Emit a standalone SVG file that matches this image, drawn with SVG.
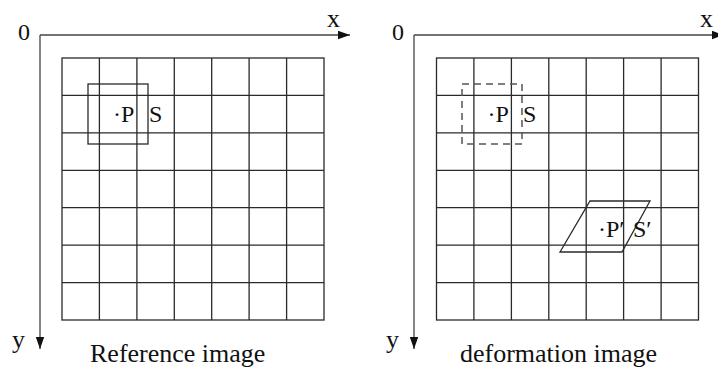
<svg xmlns="http://www.w3.org/2000/svg" width="718" height="367" viewBox="0 0 718 367" font-family="'Liberation Serif', 'DejaVu Serif', 'Times New Roman', serif">
<style>
.grid{stroke:#2a2a2a;stroke-width:1.3;fill:none}
.axis{stroke:#444;stroke-width:1.3;fill:none}
.box{stroke:#2a2a2a;stroke-width:1.3;fill:none}
.dash{stroke:#555;stroke-width:1.5;fill:none;stroke-dasharray:7,5}
text{font-family:'Liberation Serif','DejaVu Serif','Times New Roman',serif;fill:#111}
.lbl{font-size:24px}
.cap{font-size:26px}
</style>
<defs>
<marker id="ah" markerWidth="12" markerHeight="10" refX="12" refY="5" orient="auto" markerUnits="userSpaceOnUse">
<path d="M0,0.8 L12,5 L0,9.2 Z" fill="#111"/>
</marker>
</defs>
<g id="connectors">
<path class="axis" d="M40,35 H350" marker-end="url(#ah)"/>
<path class="axis" d="M40,35 V349" marker-end="url(#ah)"/>
<path class="axis" d="M414,35 H724" marker-end="url(#ah)"/>
<path class="axis" d="M414,35 V349" marker-end="url(#ah)"/>
</g>
<g id="left-panel">
<g id="left-grid" class="grid">
<rect x="62" y="58" width="262" height="262"/>
<path d="M99.4,58 V320 M136.9,58 V320 M174.3,58 V320 M211.7,58 V320 M249.1,58 V320 M286.6,58 V320"/>
<path d="M62,95.4 H324 M62,132.9 H324 M62,170.3 H324 M62,207.7 H324 M62,245.1 H324 M62,282.6 H324"/>
</g>
<rect id="left-S" class="box" x="88" y="84" width="60" height="60"/>
<text class="lbl" x="113" y="122">·P</text>
<text class="lbl" x="149" y="122">S</text>
<text class="lbl" x="18" y="40">0</text>
<text class="cap" x="327" y="27">x</text>
<text class="cap" x="12" y="348">y</text>
<text class="cap" x="90" y="362">Reference image</text>
</g>
<g id="right-panel">
<g id="right-grid" class="grid">
<rect x="436.5" y="58" width="262" height="262"/>
<path d="M473.9,58 V320 M511.4,58 V320 M548.8,58 V320 M586.2,58 V320 M623.6,58 V320 M661.1,58 V320"/>
<path d="M436.5,95.4 H698.5 M436.5,132.9 H698.5 M436.5,170.3 H698.5 M436.5,207.7 H698.5 M436.5,245.1 H698.5 M436.5,282.6 H698.5"/>
</g>
<rect id="right-S" class="dash" x="462" y="84" width="60" height="60"/>
<text class="lbl" x="487.5" y="122">·P</text>
<text class="lbl" x="523" y="122">S</text>
<path id="deformed-S" class="box" d="M590,201 L650,201 L622,252 L560,252 Z"/>
<text class="lbl" x="598" y="237">·P′</text>
<text class="lbl" x="633" y="237">S′</text>
<text class="lbl" x="392" y="40">0</text>
<text class="cap" x="700" y="27">x</text>
<text class="cap" x="386" y="348">y</text>
<text class="cap" x="460" y="362">deformation image</text>
</g>
</svg>
